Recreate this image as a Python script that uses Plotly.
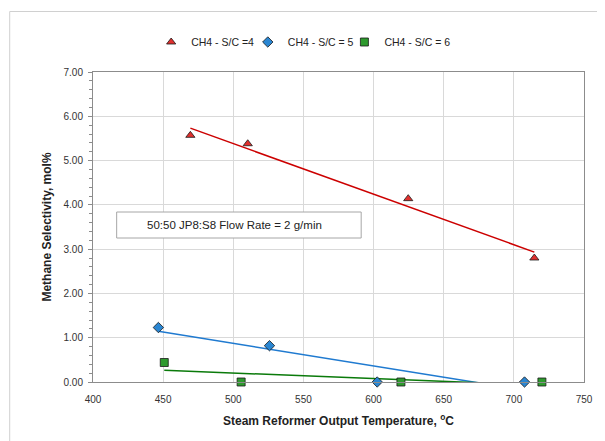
import numpy as np
import plotly.graph_objects as go

# Data
temp_sc4 = [469.4, 510.3, 624.7, 714.6]
sel_sc4 = [5.57, 5.38, 4.14, 2.80]
temp_sc5 = [446.6, 525.8, 602.6, 707.6]
sel_sc5 = [1.23, 0.82, 0.00, 0.00]
temp_sc6 = [450.8, 505.6, 619.5, 720.0]
sel_sc6 = [0.44, 0.00, 0.00, 0.00]

names = ["CH4 - S/C =4", "CH4 - S/C = 5", "CH4 - S/C = 6"]
x_ticks = [400, 450, 500, 550, 600, 650, 700, 750]

FONT = "Liberation Sans"

series = [
    (temp_sc4, sel_sc4, names[0], "triangle-up", "#E0302E", "#CC0000", 8, "legend"),
    (temp_sc5, sel_sc5, names[1], "diamond", "#2A86D2", "#1F7AD0", 8, "legend2"),
    (temp_sc6, sel_sc6, names[2], "square", "#2E9A2E", "#0A7A0A", 8, "legend3"),
]

fig = go.Figure()

# linear trendlines (computed from the data)
for xs, ys, name, sym, fill, lc, sz, lg in series:
    k, b = np.polyfit(xs, ys, 1)
    xl = [min(xs), max(xs)]
    fig.add_trace(go.Scatter(
        x=xl, y=[k * v + b for v in xl], mode="lines",
        line=dict(color=lc, width=1.5), showlegend=False, hoverinfo="skip"))

for xs, ys, name, sym, fill, lc, sz, lg in series:
    fig.add_trace(go.Scatter(
        x=xs, y=ys, mode="markers", name=name, cliponaxis=False, legend=lg,
        marker=dict(symbol=sym, size=sz, color=fill,
                    line=dict(color="#1a1a1a", width=0.8))))

# plot area in screen px: x 93..591, y 72..382 (page has 8px body margin)
PX0, PX1, PY0, PY1 = 93, 591, 72, 382
W, H = PX1 - PX0, PY1 - PY0


def px_x(p):
    return (p - PX0) / W


def px_y(p):
    return (PY1 - p) / H


legend_common = dict(orientation="h", xanchor="left", yanchor="middle", y=px_y(42),
                     font=dict(size=10.5, color="#222222", family=FONT), itemwidth=30,
                     bgcolor="rgba(0,0,0,0)", borderwidth=0)

fig.update_layout(
    width=597, height=433,
    margin=dict(l=PX0 - 8, r=605 - PX1, t=PY0 - 8, b=441 - PY1),
    paper_bgcolor="white", plot_bgcolor="white",
    font=dict(family=FONT, size=10, color="#333333"),
    showlegend=True,
    legend=dict(x=px_x(152), **legend_common),
    legend2=dict(x=px_x(250), **legend_common),
    legend3=dict(x=px_x(348), **legend_common),
    xaxis=dict(range=[400, 750], tickvals=x_ticks, ticks="", ticklabelstandoff=8,
               showgrid=True, gridcolor="#D9D9D9", gridwidth=1,
               showline=True, linecolor="#8C8C8C", mirror=True, zeroline=False,
               tickfont=dict(size=10, color="#333333"),
               title=dict(text="<b>Steam Reformer Output Temperature, <sup>o</sup>C</b>",
                          font=dict(size=12, color="#222222", family=FONT), standoff=12)),
    yaxis=dict(range=[0, 7], dtick=1, tickformat=".2f", ticks="outside", ticklen=4,
               tickcolor="#8C8C8C", ticklabelstandoff=3,
               minor=dict(dtick=0.2, ticks="outside", ticklen=3, tickcolor="#8C8C8C", showgrid=False),
               showgrid=True, gridcolor="#D9D9D9", gridwidth=1,
               showline=True, linecolor="#8C8C8C", mirror=True, zeroline=False,
               tickfont=dict(size=10, color="#333333"),
               title=dict(text="<b>Methane Selectivity, mol%</b>",
                          font=dict(size=12, color="#222222", family=FONT), standoff=9)),
)

# outer chart border
fig.add_shape(type="rect", xref="paper", yref="paper",
              x0=px_x(8.5), x1=1.2, y0=-0.4, y1=px_y(11.5),
              line=dict(color="#D0D0D0", width=1), fillcolor="rgba(0,0,0,0)", layer="below")

# text box
fig.add_shape(type="rect", xref="paper", yref="paper",
              x0=px_x(117), x1=px_x(365), y0=px_y(238), y1=px_y(212),
              line=dict(color="#A6A6A6", width=1), fillcolor="white", layer="above")
fig.add_annotation(xref="paper", yref="paper", xanchor="center", yanchor="middle",
                   x=px_x(237), y=px_y(225),
                   text="50:50 JP8:S8 Flow Rate = 2 g/min", showarrow=False,
                   font=dict(size=11.5, color="#222222", family=FONT))

fig.write_html("out.html")
